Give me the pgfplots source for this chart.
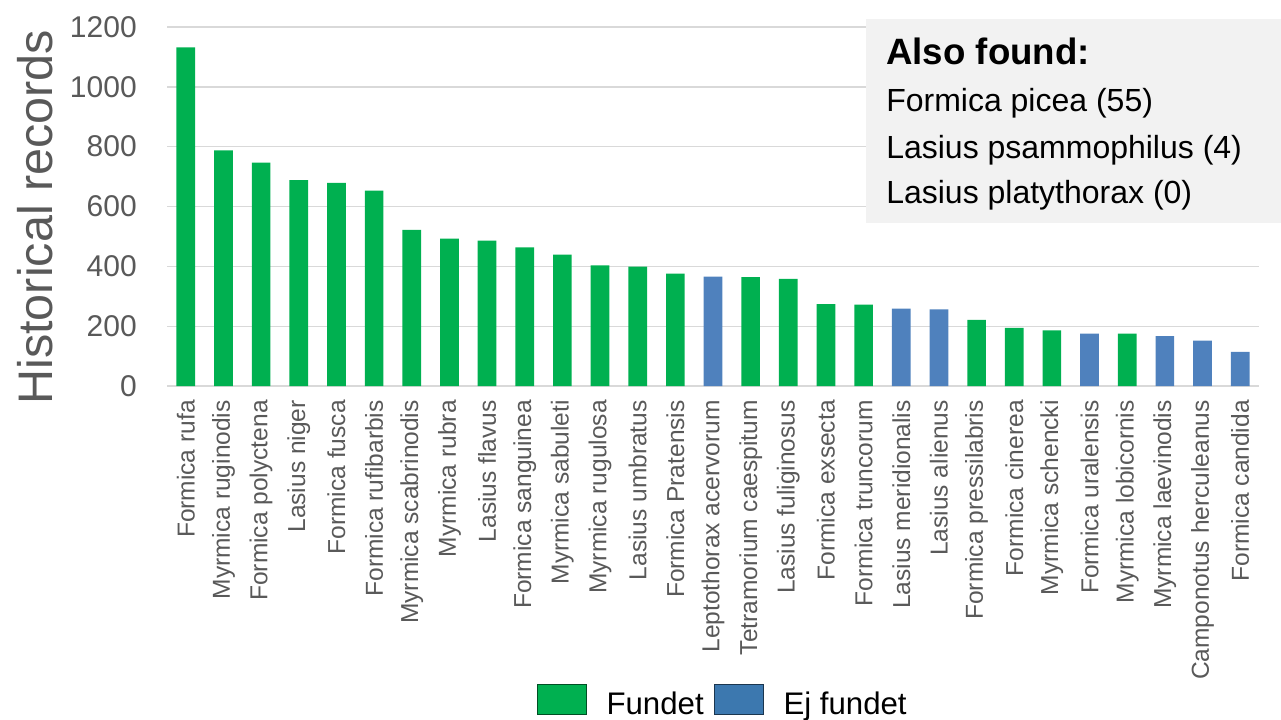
\documentclass[border=0pt]{standalone}
\usepackage{pgfplots}
\pgfplotsset{compat=1.18}
\usepackage{fontspec}
\setmainfont{Liberation Sans}

\definecolor{fundet}{HTML}{00B050}
\definecolor{ejfundet}{HTML}{4F81BD}
\definecolor{ejfundetkey}{HTML}{3C78AF}
\definecolor{gridgray}{HTML}{D9D9D9}
\definecolor{labelgray}{HTML}{595959}
\definecolor{boxgray}{HTML}{F2F2F2}

\begin{document}
\begin{tikzpicture}
\path[use as bounding box] (0,0) rectangle (960.75pt,539.25pt);
\begin{axis}[
  at={(125.25pt,249.75pt)}, anchor=south west,
  scale only axis, width=819pt, height=269.25pt,
  xmin=-0.5, xmax=28.5, ymin=0, ymax=1200,
  ytick={0,200,...,1200},
  xtick={0,...,28},
  xticklabels={Formica rufa, Myrmica ruginodis, Formica polyctena, Lasius niger,
    Formica fusca, Formica rufibarbis, Myrmica scabrinodis, Myrmica rubra,
    Lasius flavus, Formica sanguinea, Myrmica sabuleti, Myrmica rugulosa,
    Lasius umbratus, Formica Pratensis, Leptothorax acervorum, Tetramorium caespitum,
    Lasius fuliginosus, Formica exsecta, Formica truncorum, Lasius meridionalis,
    Lasius alienus, Formica pressilabris, Formica cinerea, Myrmica schencki,
    Formica uralensis, Myrmica lobicornis, Myrmica laevinodis, Camponotus herculeanus,
    Formica candida},
  ybar, bar width=14pt, bar shift=0pt,
  axis line style={draw=none},
  major tick length=0pt,
  ymajorgrids, grid style={gridgray, line width=1pt},
  /pgf/number format/assume math mode=true,
  /pgf/number format/1000 sep={},
  yticklabel style={font=\fontsize{22.5}{27}\selectfont, text=labelgray,
    anchor=east, inner sep=0pt, xshift=-22.5pt},
  xticklabel style={yshift=-10.5pt, rotate=90, anchor=east, inner sep=0pt,
    font=\fontsize{18.4}{22}\selectfont, text=labelgray},
  ylabel={Historical records},
  ylabel style={font=\fontsize{36.4}{42}\selectfont, text=labelgray,
    at={(axis description cs:-0.121,0.47)}, anchor=center},
  legend style={at={(axis description cs:0.508,-0.875)}, anchor=center,
    draw=none, fill=none, legend columns=2,
    font=\fontsize{23.4}{28}\selectfont,
    nodes={inner sep=0pt},
    /tikz/every odd column/.style={column sep=15pt},
    /tikz/every even column/.style={column sep=7.5pt}},
]
% species recorded in the survey
\addplot[fill=fundet, draw=none,
  legend image code/.code={\draw[fill=fundet, draw=black!55!fundet, line width=0.6pt]
    (0pt,-7.5pt) rectangle (36.75pt,15pt);}]
  coordinates {
    (0,1132) (1,788) (2,747) (3,688) (4,679) (5,653) (6,522) (7,493)
    (8,486) (9,463) (10,439) (11,403) (12,399) (13,376)
    (15,364) (16,358) (17,274) (18,272)
    (21,221) (22,194) (23,186) (25,175)
  };
\addlegendentry{Fundet}
% species not recorded in the survey
\addplot[fill=ejfundet, draw=none,
  legend image code/.code={\draw[fill=ejfundetkey, draw=black!55!ejfundetkey, line width=0.6pt]
    (0pt,-7.5pt) rectangle (36.75pt,15pt);}]
  coordinates {
    (14,366) (19,259) (20,256) (24,175) (26,167) (27,152) (28,114)
  };
\addlegendentry{Ej fundet}
\end{axis}

% box listing the species found outside the historical records
\fill[boxgray] (649.5pt,372pt) rectangle (960.75pt,525pt);
\node[anchor=base west, inner sep=0pt, font=\fontsize{27.5}{30}\selectfont\bfseries]
  at (664.5pt,490.5pt) {Also found:};
\node[anchor=base west, inner sep=0pt, font=\fontsize{24}{28}\selectfont]
  at (664.5pt,455.5pt) {Formica picea (55)};
\node[anchor=base west, inner sep=0pt, font=\fontsize{24}{28}\selectfont]
  at (664.5pt,420.5pt) {Lasius psammophilus (4)};
\node[anchor=base west, inner sep=0pt, font=\fontsize{24}{28}\selectfont]
  at (664.5pt,386.25pt) {Lasius platythorax (0)};
\end{tikzpicture}
\end{document}
